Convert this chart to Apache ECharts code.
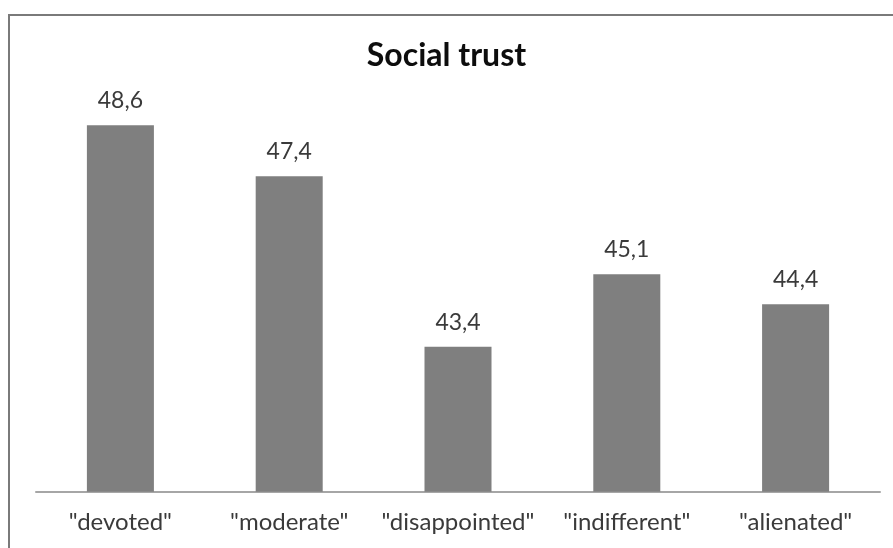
<!DOCTYPE html>
<html>
<head>
<meta charset="utf-8">
<title>Social trust</title>
<script src="https://cdn.jsdelivr.net/npm/echarts@6/dist/echarts.min.js"></script>
<style>
  html, body { margin: 0; padding: 0; background: #ffffff; }
  #chart { width: 893px; height: 548px; }
</style>
</head>
<body>
<div id="chart"></div>
<script>
// Social trust score by attitude group
const categories = ['"devoted"', '"moderate"', '"disappointed"', '"indifferent"', '"alienated"'];
const trustValues = [48.6, 47.4, 43.4, 45.1, 44.4];
const axisMin = 40;
const axisMax = 50;

const chart = echarts.init(document.getElementById('chart'), null, { renderer: 'canvas' });

chart.setOption({
  backgroundColor: '#ffffff',
  animation: false,
  textStyle: { fontFamily: 'Lato' },
  title: {
    text: 'Social trust',
    left: 'center',
    top: 40,
    padding: 0,
    textStyle: { fontFamily: 'Lato', fontWeight: 'bold', fontSize: 32, color: '#0d0d0d' }
  },
  graphic: [{
    type: 'rect',
    shape: { x: 9, y: 15, width: 1000, height: 700 },
    style: { fill: 'none', stroke: '#7a7a7a', lineWidth: 2 },
    silent: true
  }],
  grid: { left: 36, right: 13, top: 65.5, bottom: 56.3, containLabel: false },
  xAxis: {
    type: 'category',
    data: categories,
    axisLine: { show: true, lineStyle: { color: '#a6a6a6', width: 2 } },
    axisTick: { show: false },
    axisLabel: { color: '#3a3a3a', fontFamily: 'Lato', fontSize: 24, margin: 19, interval: 0 },
    splitLine: { show: false }
  },
  yAxis: {
    type: 'value',
    min: axisMin,
    max: axisMax,
    show: false,
    splitLine: { show: false }
  },
  series: [{
    type: 'bar',
    data: trustValues,
    barWidth: '39.7%',
    itemStyle: { color: '#7f7f7f' },
    label: {
      show: true,
      position: 'top',
      distance: 13,
      color: '#3a3a3a',
      fontFamily: 'Lato',
      fontSize: 23,
      formatter: p => p.value.toFixed(1).replace('.', ',')
    }
  }]
});
</script>
</body>
</html>
